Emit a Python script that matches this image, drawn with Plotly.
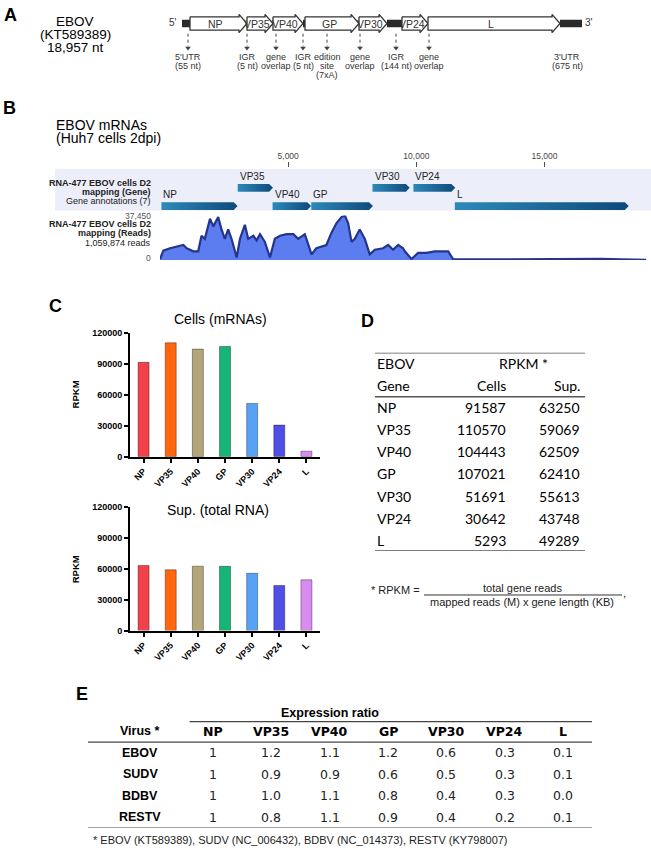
import plotly.graph_objects as go

W, H = 651, 852


def px(x):
    return x / W


def py(y):
    return 1 - y / H


ARIAL = "Liberation Sans, Arial, sans-serif"
NARROW = "Liberation Sans Narrow, Arial Narrow, Liberation Sans, sans-serif"
CALIBRI = "Lato, Carlito, Calibri, sans-serif"
VERDANA = "DejaVu Sans, Verdana, sans-serif"

# ---------------- data ----------------
genes = ["NP", "VP35", "VP40", "GP", "VP30", "VP24", "L"]
rpkm_cells = [91587, 110570, 104443, 107021, 51691, 30642, 5293]
rpkm_sup = [63250, 59069, 62509, 62410, 55613, 43748, 49289]
bar_colors = ["#f2414b", "#ff660d", "#b3a67a", "#14b577", "#58a2f4", "#4f4fe6", "#d98bf0"]

# panel A: schematic genome (not to scale), schematic units
diag_start = [190, 247, 273, 305, 359, 402, 428]
diag_end = [247, 273, 303, 359, 387, 428, 560]
noncoding_start = [182, 303, 387, 560]
noncoding_end = [190, 305, 402, 582]
feature_x = [188, 247, 276, 303, 327, 360, 396, 429, 567]
feature_lines = [["5'UTR", "(55 nt)"], ["IGR", "(5 nt)"], ["gene", "overlap"], ["IGR", "(5 nt)"],
                 ["edition", "site", "(7xA)"], ["gene", "overlap"], ["IGR", "(144 nt)"],
                 ["gene", "overlap"], ["3'UTR", "(675 nt)"]]
feature_arrow = [True, True, True, True, True, True, True, True, False]

# panel B: gene annotations (nt) and read coverage
gene_start = [56, 3032, 4390, 5900, 8288, 9885, 11501]
gene_end = [3026, 4407, 5894, 8305, 9740, 11518, 18282]
gene_row = [0, 1, 0, 0, 1, 1, 0]
genome_len = 18957
cov_pos = [0, 130, 390, 650, 910, 1040, 1300, 1490, 1620, 1750, 1950, 2080, 2270, 2400, 2530,
           2660, 2790, 2990, 3120, 3310, 3440, 3640, 3770, 3900, 4090, 4290, 4480, 4680, 4940,
           5200, 5390, 5650, 5780, 5910, 6100, 6490, 6690, 6880, 7080, 7210, 7340, 7470, 7600,
           7790, 7990, 8180, 8380, 8700, 8900, 9090, 9290, 9480, 9550, 9810, 10070, 10390,
           10720, 10910, 11110, 11240, 11430, 11600, 12500, 13500, 14500, 15500, 16500, 17200,
           18000, 18600, 18957]
cov_reads = [800, 7900, 9900, 11300, 12600, 9900, 7300, 7300, 20400, 17800, 34800, 28300, 36100,
             25700, 17800, 25700, 17800, 2100, 17800, 29600, 17800, 20400, 16500, 21700, 15200,
             2100, 17800, 20400, 21700, 21700, 17800, 21700, 12600, 4700, 9900, 12600, 23000,
             30900, 36100, 37450, 30900, 15200, 17800, 25700, 17800, 4700, 8600, 9900, 12600,
             8600, 12600, 9900, 7300, 800, 6000, 6000, 7300, 7300, 7900, 7300, 800, 500, 450,
             600, 700, 800, 900, 1000, 600, 200, 0]

# panel E: expression ratios
viruses = ["EBOV", "SUDV", "BDBV", "RESTV"]
ratios = [["1", "1.2", "1.1", "1.2", "0.6", "0.3", "0.1"],
          ["1", "0.9", "0.9", "0.6", "0.5", "0.3", "0.1"],
          ["1", "1.0", "1.1", "0.8", "0.4", "0.3", "0.0"],
          ["1", "0.8", "1.1", "0.9", "0.4", "0.2", "0.1"]]

fig = go.Figure()
ann = []
shapes = []


def text(x, y, s, size, family=ARIAL, xanchor="center", color="black", bold=False,
         xref="paper", yref="paper", angle=0, yanchor="middle"):
    ann.append(dict(x=x, y=y, xref=xref, yref=yref, text=s, showarrow=False, xanchor=xanchor,
                    yanchor=yanchor, textangle=angle, borderpad=0,
                    font=dict(size=size, family=family, color=color, weight=700 if bold else 400)))


# panel letters
for letter, lx, ly in [("A", 10, 10), ("B", 9, 104), ("C", 55, 305), ("D", 367, 320), ("E", 82, 697)]:
    text(px(lx), py(ly), letter, 18, bold=True)

# ---------------- panel A ----------------
text(px(75), py(17), "EBOV", 13.5)
text(px(75), py(30), "(KT589389)", 13.5)
text(px(75), py(43), "18,957 nt", 13.5)

for s, e in zip(noncoding_start, noncoding_end):
    fig.add_trace(go.Scatter(x=[s, e, e, s, s], y=[15, 15, 22.5, 22.5, 15], fill="toself",
                             fillcolor="#2a2a2a", line=dict(width=0), mode="lines",
                             xaxis="x7", yaxis="y7", hoverinfo="skip"))
for g, s, e in zip(genes, diag_start, diag_end):
    hx = e - 8
    fig.add_trace(go.Scatter(x=[s, hx, hx, e, hx, hx, s, s],
                             y=[12, 12, 9.5, 18.75, 28, 25.5, 25.5, 12], fill="toself",
                             fillcolor="white", line=dict(color="#333", width=1.3), mode="lines",
                             xaxis="x7", yaxis="y7", hoverinfo="skip"))
    text((s + hx) / 2 + 1, 18.75, g, 10.5, family=NARROW, color="#333", xref="x7", yref="y7")
text(173, 18, "5'", 10, family=NARROW, color="#333", xref="x7", yref="y7")
text(589, 18, "3'", 10, family=NARROW, color="#333", xref="x7", yref="y7")

arrow_x = [x for x, a in zip(feature_x, feature_arrow) if a]
for x in arrow_x:
    shapes.append(dict(type="line", xref="x7", yref="y7", x0=x, x1=x, y0=29, y1=42,
                       line=dict(color="#444", width=1, dash="dot")))
fig.add_trace(go.Scatter(x=arrow_x, y=[43.5] * len(arrow_x), mode="markers",
                         marker=dict(symbol="triangle-down", size=5, color="#444"),
                         xaxis="x7", yaxis="y7", hoverinfo="skip"))
for x, lines in zip(feature_x, feature_lines):
    for i, ln in enumerate(lines):
        text(x, 53 + 9 * i, ln, 9, family=NARROW, color="#333", xref="x7", yref="y7")

# ---------------- panel B ----------------
text(px(55), py(121), "EBOV mRNAs", 14, xanchor="left")
text(px(55), py(135), "(Huh7 cells 2dpi)", 14, xanchor="left")

shapes.append(dict(type="rect", xref="paper", yref="paper", x0=px(55), x1=1, y0=py(208), y1=py(166),
                   fillcolor="#eceef9", line=dict(width=0), layer="below"))

for g, s, e, r in zip(genes, gene_start, gene_end, gene_row):
    tip = 150
    h = 0.21
    fig.add_trace(go.Scatter(x=[s, e - tip, e, e - tip, s, s],
                             y=[r - h, r - h, r, r + h, r + h, r - h], fill="toself",
                             fillgradient=dict(type="horizontal",
                                               colorscale=[[0, "#2d89ba"], [1, "#0e4a7a"]]),
                             line=dict(width=0), mode="lines", xaxis="x", yaxis="y2",
                             hoverinfo="skip"))
    text(s + 40, r + 0.28, g, 10, color="#222", xanchor="left", yanchor="bottom",
         xref="x", yref="y2")

fig.add_trace(go.Scatter(x=cov_pos, y=cov_reads, mode="lines", fill="tozeroy",
                         fillcolor="#5b7df0", line=dict(color="#25348c", width=2.2),
                         xaxis="x", yaxis="y", hoverinfo="skip"))

for yy, s, b in [(180, "RNA-477 EBOV cells D2", True), (189, "mapping (Gene)", True),
                 (198, "Gene annotations (7)", False),
                 (222, "RNA-477 EBOV cells D2", True), (231, "mapping (Reads)", True),
                 (241, "1,059,874 reads", False)]:
    text(px(152), py(yy), s, 9, family=NARROW, xanchor="right", bold=b, color="#222")
text(px(152), py(213), "37,450", 8.5, family=NARROW, xanchor="right", color="#555")
text(px(152), py(256), "0", 8.5, family=NARROW, xanchor="right", color="#555")

# ---------------- panel C ----------------
for xa, ya, vals in [("x2", "y3", rpkm_cells), ("x3", "y4", rpkm_sup)]:
    fig.add_trace(go.Bar(x=genes, y=vals, marker=dict(color=bar_colors,
                                                       line=dict(color="rgba(0,0,0,0.35)", width=1)),
                         xaxis=xa, yaxis=ya, hoverinfo="skip"))
text(px(220), py(318), "Cells (mRNAs)", 14)
text(px(218), py(511), "Sup. (total RNA)", 14)
text(px(75), py(394), "RPKM", 9.5, bold=True, angle=-90)
text(px(75), py(571), "RPKM", 9.5, bold=True, angle=-90)

# ---------------- panel D ----------------
d_left, d_cells, d_sup = px(376), px(507), px(581)
text(d_left, 0, "EBOV", 14, family=CALIBRI, xanchor="left", yref="y5")
text(px(523), 0, "RPKM *", 14, family=CALIBRI, yref="y5")
text(d_left, 1, "Gene", 14, family=CALIBRI, xanchor="left", yref="y5")
text(d_cells, 1, "Cells", 14, family=CALIBRI, xanchor="right", yref="y5")
text(d_sup, 1, "Sup.", 14, family=CALIBRI, xanchor="right", yref="y5")
for i, (g, c, s) in enumerate(zip(genes, rpkm_cells, rpkm_sup)):
    text(d_left, i + 2, g, 14, family=CALIBRI, xanchor="left", yref="y5")
    text(d_cells, i + 2, str(c), 14, family=CALIBRI, xanchor="right", yref="y5")
    text(d_sup, i + 2, str(s), 14, family=CALIBRI, xanchor="right", yref="y5")
for yv in [-0.5, 1.5, 8.5]:
    shapes.append(dict(type="line", xref="paper", yref="y5", x0=px(375), x1=px(585), y0=yv, y1=yv,
                       line=dict(color="#555", width=1.6)))

text(px(370), py(592), "* RPKM =", 11, xanchor="left", color="#222")
text(px(522), py(590), "total gene reads", 11, color="#222")
text(px(522), py(604), "mapped reads (M) x gene length (KB)", 11, color="#222")
text(px(624), py(595), ",", 11, color="#222")
shapes.append(dict(type="line", xref="paper", yref="paper", x0=px(424), x1=px(622),
                   y0=py(597), y1=py(597), line=dict(color="#333", width=1)))

# ---------------- panel E ----------------
text(2.0, -0.85, "Expression ratio", 12.5, bold=True, xref="x5", yref="y6")
text(-1.25, 0, "Virus *", 12.5, bold=True, xref="x5", yref="y6")
for j, g in enumerate(genes):
    text(j, 0, g, 12.5, family=VERDANA, bold=True, xref="x5", yref="y6")
for i, (v, row) in enumerate(zip(viruses, ratios)):
    text(-1.25, i + 1, v, 12.5, bold=True, xref="x5", yref="y6")
    for j, val in enumerate(row):
        text(j, i + 1, val, 12.5, family=VERDANA, color="#222", xref="x5", yref="y6")
shapes.append(dict(type="line", xref="x5", yref="y6", x0=-0.4, x1=6.497, y0=-0.45, y1=-0.45,
                   line=dict(color="#444", width=1.3)))
for yv in [0.5, 4.5]:
    shapes.append(dict(type="line", xref="x5", yref="y6", x0=-2.143, x1=6.497, y0=yv, y1=yv,
                       line=dict(color="#444", width=1.3)))
text(px(92), py(845), "* EBOV (KT589389), SUDV (NC_006432), BDBV (NC_014373), RESTV (KY798007)",
     11, xanchor="left", color="#222")

# invisible anchors for table axes
fig.add_trace(go.Scatter(x=[0], y=[0], mode="markers", marker=dict(opacity=0),
                         xaxis="x4", yaxis="y5", hoverinfo="skip"))
fig.add_trace(go.Scatter(x=[0], y=[0], mode="markers", marker=dict(opacity=0),
                         xaxis="x5", yaxis="y6", hoverinfo="skip"))

hidden = dict(visible=False, showgrid=False, zeroline=False, fixedrange=True)
bar_x = dict(showgrid=False, zeroline=False, showline=True, linecolor="black", linewidth=2,
             ticks="outside", ticklen=4, tickwidth=1.5, tickcolor="black", tickangle=-45,
             tickfont=dict(size=9, family=ARIAL, color="black", weight=700))
bar_y = dict(range=[0, 120000], tickvals=[0, 30000, 60000, 90000, 120000], tickformat="d",
             showgrid=False, zeroline=False, showline=True, linecolor="black", linewidth=2,
             ticks="outside", ticklen=4, tickwidth=2, tickcolor="black",
             tickfont=dict(size=9, family=ARIAL, color="black", weight=700))

fig.update_layout(
    width=W, height=H, margin=dict(l=0, r=0, t=0, b=0), autosize=False,
    paper_bgcolor="white", plot_bgcolor="rgba(0,0,0,0)", showlegend=False,
    bargap=0.595,
    xaxis=dict(domain=[px(160), px(646)], range=[0, genome_len], side="top", anchor="free",
               position=py(158), ticks="inside", ticklen=5, tickcolor="#555", tickwidth=1,
               tickvals=[5000, 10000, 15000], ticktext=["5,000", "10,000", "15,000"],
               tickfont=dict(size=8.5, family=NARROW, color="#444"), showgrid=False,
               zeroline=False, showline=False),
    yaxis=dict(domain=[py(258), py(213)], range=[0, 37450], anchor="x", **hidden),
    yaxis2=dict(domain=[py(208), py(166)], range=[-0.243, 2.027], anchor="x", **hidden),
    xaxis2=dict(domain=[px(130), px(320)], anchor="y3", **bar_x),
    yaxis3=dict(domain=[py(457), py(332)], anchor="x2", **bar_y),
    xaxis3=dict(domain=[px(130), px(320)], anchor="y4", **bar_x),
    yaxis4=dict(domain=[py(633), py(508)], anchor="x3", **bar_y),
    xaxis4=dict(domain=[px(375), px(585)], range=[0, 1], anchor="y5", **hidden),
    yaxis5=dict(domain=[py(552.6), py(351.85)], range=[8.5, -0.5], anchor="x4", **hidden),
    xaxis5=dict(domain=[px(88), px(592)], range=[-2.143, 6.497], anchor="y6", **hidden),
    yaxis6=dict(domain=[py(832.9), py(706.7)], range=[4.5, -1.3], anchor="x5", **hidden),
    xaxis7=dict(domain=[0, 1], range=[0, W], anchor="y7", **hidden),
    yaxis7=dict(domain=[py(100), 1], range=[100, 0], anchor="x7", **hidden),
    annotations=ann, shapes=shapes,
)

fig.write_html("out.html", config={"displayModeBar": False},
               post_script="document.body.style.margin='0';")
